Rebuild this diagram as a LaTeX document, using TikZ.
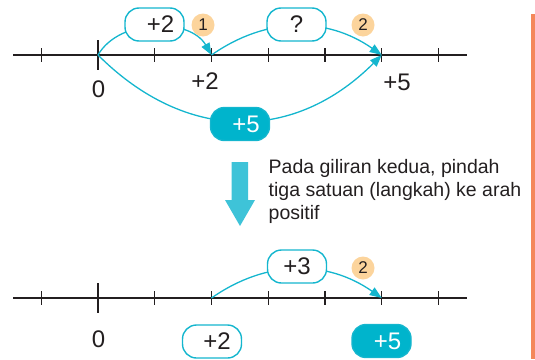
\documentclass[tikz,border=0pt]{standalone}
\usepackage{fontspec}
\setmainfont{Liberation Sans}
\usetikzlibrary{arrows.meta}
\definecolor{cyanline}{RGB}{20,182,206}
\definecolor{cyanfill}{RGB}{0,180,204}
\definecolor{arrowblue}{RGB}{62,195,216}
\definecolor{badgecol}{RGB}{252,212,156}
\definecolor{orangebar}{RGB}{244,135,90}
\definecolor{axiscol}{RGB}{35,31,32}
\definecolor{txt}{RGB}{35,31,32}
\newcommand{\numfont}{\fontsize{24}{28}\selectfont}
\begin{document}
\begin{tikzpicture}[x=1pt,y=-1pt,
  axis/.style={line width=2.2pt, draw=axiscol},
  tickmark/.style={line width=1.1pt, draw=axiscol},
  jump/.style={draw=cyanline, line width=1.3pt, -{Triangle[length=12pt,width=9pt]}},
  bubble/.style={draw=cyanline, line width=1.4pt, fill=white, rounded corners=14pt,
    minimum width=59pt, minimum height=33pt, inner sep=0pt, font=\numfont, text=txt},
  bubblefill/.style={bubble, fill=cyanfill, text=white},
  badge/.style={circle, fill=badgecol, minimum size=23pt, inner sep=0pt,
    font=\fontsize{17}{17}\selectfont, text=txt},
  num/.style={font=\numfont, text=txt, inner sep=0pt},
]
\useasboundingbox (0,0) rectangle (535,359);

% ---------- top number line ----------
\draw[axis] (13,55) -- (467,55);
\foreach \i in {-1,1,2,3,4,5,6}
  \draw[tickmark] ({98+56.75*\i},48) -- ++(0,14);
\draw[tickmark] (98,40) -- (98,70);
\coordinate (a0) at (98,55);
\coordinate (a2) at (211.5,55);
\coordinate (a5) at (381.75,55);

\node[num] (l0) at (98.5,89.5) {0};
\node[num] (l2) at (205,81) {+2};
\node[num] (l5) at (397,82) {+5};

\draw[jump] (a0) .. controls +(21.5,-37.2) and +(-21.5,-37.2) .. (a2);
\draw[jump] (a2) .. controls +(54.9,-38.4) and +(-54.9,-38.4) .. (a5);
\draw[jump] (a0) .. controls +(87.7,87.7) and +(-87.7,87.7) .. (a5);

\node[bubble] (q1) at (154.5,24.5) {\hspace*{12pt}+2};
\node[bubble] (q2) at (296.5,24.5) {?};
\node[bubblefill] (q3) at (240,124) {\hspace*{12pt}+5};
\node[badge] (c1) at (203,25) {1};
\node[badge] (c2) at (363,25) {2};

% ---------- arrow and text ----------
\fill[arrowblue] (231.7,162) -- (248,162) -- (248,200) -- (255,200) -- (240,226)
  -- (225,200) -- (231.7,200) -- cycle;
\node[anchor=north west, inner sep=0pt, align=left, text=txt,
  font=\fontsize{19.5}{23}\selectfont] (note) at (268.5,159.5)
  {Pada giliran kedua, pindah\\tiga satuan (langkah) ke arah\\positif};

% ---------- bottom number line ----------
\draw[axis] (13,298) -- (467,298);
\foreach \i in {-1,1,2,3,4,5,6}
  \draw[tickmark] ({98+56.75*\i},291) -- ++(0,14);
\draw[tickmark] (98,283) -- (98,313);
\coordinate (b2) at (211.5,298);
\coordinate (b5) at (381.75,298);

\draw[jump] (b2) .. controls +(54.9,-38.4) and +(-54.9,-38.4) .. (b5);
\node[bubble] (r1) at (297,266.5) {+3};
\node[badge] (c3) at (363,268) {2};

\node[num] (m0) at (98.5,339) {0};
\node[bubble] (r2) at (212,341.5) {\hspace*{10pt}+2};
\node[bubblefill] (r3) at (381.5,341) {\hspace*{12pt}+5};

% ---------- side bar ----------
\fill[orangebar] (531,14) rectangle (535,359);
\end{tikzpicture}
\end{document}
